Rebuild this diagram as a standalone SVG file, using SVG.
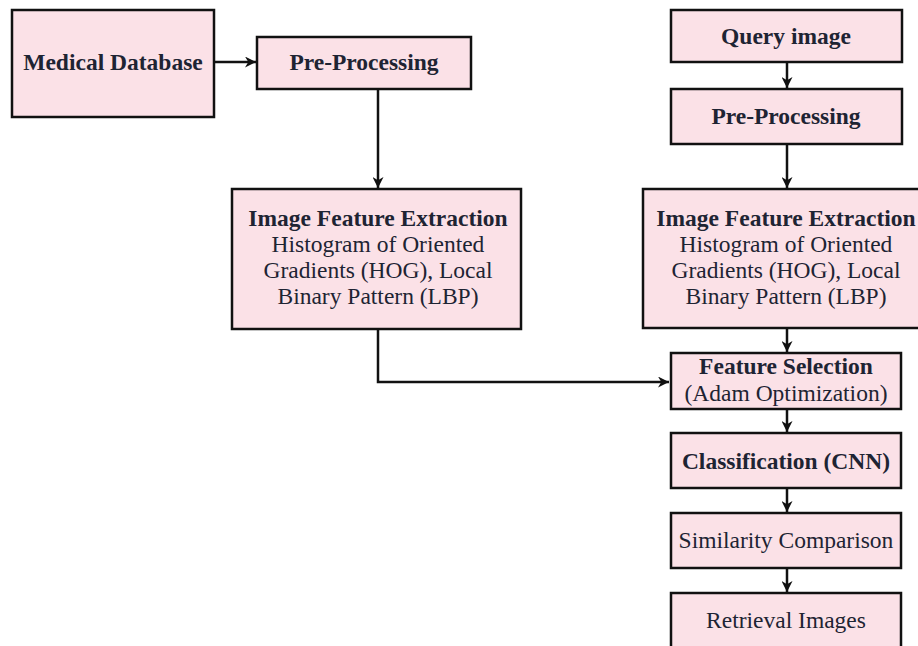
<svg xmlns="http://www.w3.org/2000/svg" width="918" height="646" viewBox="0 0 918 646">
<style>
.box{fill:#fbe1e7;stroke:#111;stroke-width:2.5}
.t{font-family:"Liberation Serif","Times New Roman",serif;font-size:23.5px;fill:#1e2433;text-anchor:middle}
.b{font-weight:bold}
.c{fill:none;stroke:#111;stroke-width:2.5}
</style>
<defs>
<marker id="ah" viewBox="0 0 10 10" refX="10" refY="5" markerWidth="4.4" markerHeight="4.4" orient="auto" markerUnits="strokeWidth">
<path d="M0,0 L10,5 L0,10 L3,5 Z" fill="#111"/>
</marker>
</defs>
<rect width="918" height="646" fill="#fff"/>
<g id="connectors">
<line class="c" x1="214" y1="62" x2="256" y2="62" marker-end="url(#ah)"/>
<line class="c" x1="378" y1="89" x2="378" y2="188" marker-end="url(#ah)"/>
<polyline class="c" points="378,329 378,382 669,382" marker-end="url(#ah)"/>
<line class="c" x1="787" y1="62" x2="787" y2="88" marker-end="url(#ah)"/>
<line class="c" x1="787" y1="144" x2="787" y2="188" marker-end="url(#ah)"/>
<line class="c" x1="787" y1="328" x2="787" y2="352" marker-end="url(#ah)"/>
<line class="c" x1="787" y1="409" x2="787" y2="432" marker-end="url(#ah)"/>
<line class="c" x1="787" y1="488" x2="787" y2="512" marker-end="url(#ah)"/>
<line class="c" x1="787" y1="568" x2="787" y2="592" marker-end="url(#ah)"/>
</g>
<g id="medical-database">
<rect class="box" x="12" y="10" width="202" height="107"/>
<text class="t b" x="113" y="70">Medical Database</text>
</g>
<g id="pre-processing-left">
<rect class="box" x="257" y="37" width="214" height="52"/>
<text class="t b" x="364" y="70">Pre-Processing</text>
</g>
<g id="feature-extraction-left">
<rect class="box" x="232" y="189" width="289" height="140"/>
<text class="t b" x="378" y="226">Image Feature Extraction</text>
<text class="t" x="378" y="252">Histogram of Oriented</text>
<text class="t" x="378" y="278">Gradients (HOG), Local</text>
<text class="t" x="378" y="304">Binary Pattern (LBP)</text>
</g>
<g id="query-image">
<rect class="box" x="671" y="10" width="231" height="52"/>
<text class="t b" x="786" y="44">Query image</text>
</g>
<g id="pre-processing-right">
<rect class="box" x="671" y="89" width="231" height="55"/>
<text class="t b" x="786" y="124">Pre-Processing</text>
</g>
<g id="feature-extraction-right">
<rect class="box" x="643" y="189" width="290" height="139"/>
<text class="t b" x="786" y="226">Image Feature Extraction</text>
<text class="t" x="786" y="252">Histogram of Oriented</text>
<text class="t" x="786" y="278">Gradients (HOG), Local</text>
<text class="t" x="786" y="304">Binary Pattern (LBP)</text>
</g>
<g id="feature-selection">
<rect class="box" x="671" y="353" width="230" height="56"/>
<text class="t b" x="786" y="374">Feature Selection</text>
<text class="t" x="786" y="401">(Adam Optimization)</text>
</g>
<g id="classification">
<rect class="box" x="671" y="433" width="230" height="55"/>
<text class="t b" x="786" y="469">Classification (CNN)</text>
</g>
<g id="similarity">
<rect class="box" x="671" y="513" width="230" height="55"/>
<text class="t" x="786" y="548">Similarity Comparison</text>
</g>
<g id="retrieval">
<rect class="box" x="671" y="593" width="230" height="70"/>
<text class="t" x="786" y="628">Retrieval Images</text>
</g>
</svg>
